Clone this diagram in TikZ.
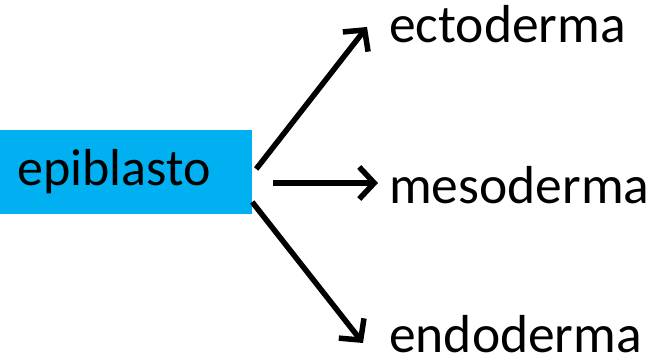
\documentclass[tikz,border=0pt]{standalone}
\usepackage{fontspec}
\setmainfont{Carlito}
\usepackage{tikz}
\usetikzlibrary{positioning,calc,arrows.meta}
\definecolor{boxblue}{RGB}{0,176,240}

\begin{document}
\begin{tikzpicture}[x=1pt, y=1pt,
        germ layer/.style={inner sep=0pt, anchor=base west, font=\fontsize{53.5}{62}\selectfont},
        line/.style={draw, line width=5.5pt, -{Straight Barb[length=15pt, width=32pt]}}]
        \useasboundingbox (0,0) rectangle (654,361);

        \node [fill=boxblue, minimum width=252pt, minimum height=84pt, text width=217pt, inner xsep=17.5pt, inner ysep=0pt, align=left, font=\fontsize{52}{62}\selectfont] (epi) at (126,189) {epiblasto};
        \node [germ layer] (ecto) at (389,318) {ectoderma};
        \node [germ layer] (meso) at (389,157) {mesoderma};
        \node [germ layer] (endo) at (389,8) {endoderma};

        \path [line] ($(epi.east)+(4,3)$) -- ($(ecto.base west)+(-22,16)$);
        \path [line] ($(epi.east)+(21,-11)$) -- ($(meso.base west)+(-11,21)$);
        \path [line] ($(epi.east)+(0,-30)$) -- ($(endo.base west)+(-26,10)$);
    \end{tikzpicture}
\end{document}
